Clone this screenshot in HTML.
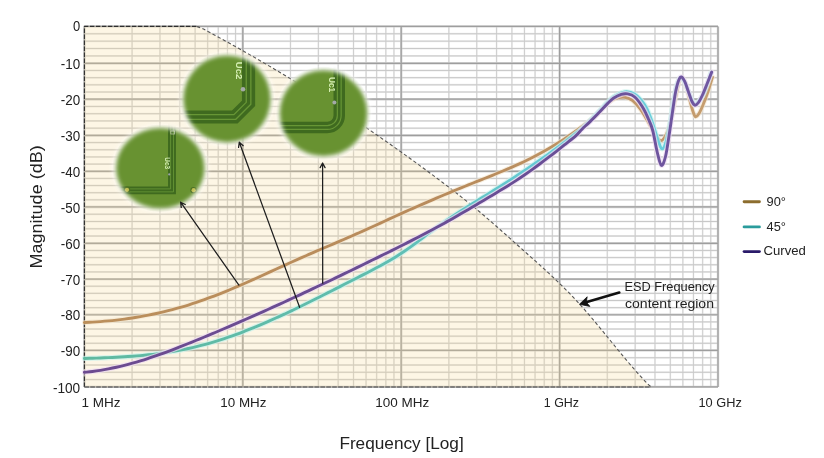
<!DOCTYPE html>
<html><head><meta charset="utf-8"><style>
html,body{margin:0;padding:0;background:#fff;}
body{width:824px;height:458px;overflow:hidden;}
svg{display:block;will-change:transform;font-family:"Liberation Sans",sans-serif;}
.yl{font-size:14.3px;fill:#222;}
.xl{font-size:13px;fill:#222;}
</style></head><body>
<svg width="824" height="458" viewBox="0 0 824 458">
<defs>
<filter id="cb" x="-30%" y="-30%" width="160%" height="160%"><feGaussianBlur stdDeviation="2.2"/></filter>
<filter id="cw" x="-30%" y="-30%" width="160%" height="160%"><feGaussianBlur stdDeviation="2.4"/></filter>
<mask id="mc1" maskUnits="userSpaceOnUse" x="0" y="0" width="824" height="458"><ellipse cx="160.3" cy="168.2" rx="44.3" ry="40.3" fill="#fff" filter="url(#cb)"/></mask><mask id="mc2" maskUnits="userSpaceOnUse" x="0" y="0" width="824" height="458"><ellipse cx="227.0" cy="98.9" rx="43.7" ry="43.5" fill="#fff" filter="url(#cb)"/></mask><mask id="mc3" maskUnits="userSpaceOnUse" x="0" y="0" width="824" height="458"><ellipse cx="323.5" cy="113.3" rx="43.8" ry="43.0" fill="#fff" filter="url(#cb)"/></mask>
<filter id="blur2" x="-20%" y="-20%" width="140%" height="140%"><feGaussianBlur stdDeviation="2.2"/></filter>
<filter id="blur1" x="-20%" y="-20%" width="140%" height="140%"><feGaussianBlur stdDeviation="0.5"/></filter>
<filter id="soft" filterUnits="userSpaceOnUse" x="0" y="0" width="824" height="458"><feGaussianBlur stdDeviation="0.8"/></filter>
</defs>
<rect width="824" height="458" fill="#fff"/>
<g>
<path d="M132.08,26.42V386.90M159.98,26.42V386.90M179.77,26.42V386.90M195.12,26.42V386.90M207.66,26.42V386.90M218.26,26.42V386.90M227.45,26.42V386.90M235.55,26.42V386.90M290.48,26.42V386.90M318.38,26.42V386.90M338.17,26.42V386.90M353.52,26.42V386.90M366.06,26.42V386.90M376.66,26.42V386.90M385.85,26.42V386.90M393.95,26.42V386.90M448.88,26.42V386.90M476.78,26.42V386.90M496.57,26.42V386.90M511.92,26.42V386.90M524.46,26.42V386.90M535.06,26.42V386.90M544.25,26.42V386.90M552.35,26.42V386.90M607.28,26.42V386.90M635.18,26.42V386.90M654.97,26.42V386.90M670.32,26.42V386.90M682.86,26.42V386.90M693.46,26.42V386.90M702.65,26.42V386.90M710.75,26.42V386.90" stroke="#f0f0f0" stroke-width="1.8" fill="none"/>
<path d="M84.40,33.79H718.00M84.40,41.16H718.00M84.40,48.54H718.00M84.40,55.91H718.00M84.40,70.46H718.00M84.40,77.64H718.00M84.40,84.83H718.00M84.40,92.01H718.00M84.40,106.44H718.00M84.40,113.69H718.00M84.40,120.93H718.00M84.40,128.18H718.00M84.40,142.60H718.00M84.40,149.77H718.00M84.40,156.94H718.00M84.40,164.11H718.00M84.40,178.42H718.00M84.40,185.56H718.00M84.40,192.69H718.00M84.40,199.83H718.00M84.40,214.23H718.00M84.40,221.49H718.00M84.40,228.76H718.00M84.40,236.02H718.00M84.40,250.44H718.00M84.40,257.60H718.00M84.40,264.77H718.00M84.40,271.93H718.00M84.40,286.22H718.00M84.40,293.36H718.00M84.40,300.49H718.00M84.40,307.63H718.00M84.40,321.89H718.00M84.40,329.02H718.00M84.40,336.16H718.00M84.40,343.29H718.00M84.40,357.72H718.00M84.40,365.01H718.00M84.40,372.31H718.00M84.40,379.60H718.00" stroke="#ededed" stroke-width="2.0" fill="none"/>
<path d="M84.40,26.42H718.00M84.40,63.28H718.00M84.40,99.19H718.00M84.40,135.43H718.00M84.40,171.28H718.00M84.40,206.97H718.00M84.40,243.28H718.00M84.40,279.09H718.00M84.40,314.76H718.00M84.40,350.42H718.00M84.40,386.90H718.00M84.40,26.42V386.90M242.80,26.42V386.90M401.20,26.42V386.90M559.60,26.42V386.90M718.00,26.42V386.90" stroke="#d2d2d2" stroke-width="2.4" fill="none"/>
<path d="M132.08,26.42V386.90M159.98,26.42V386.90M179.77,26.42V386.90M195.12,26.42V386.90M207.66,26.42V386.90M218.26,26.42V386.90M227.45,26.42V386.90M235.55,26.42V386.90M290.48,26.42V386.90M318.38,26.42V386.90M338.17,26.42V386.90M353.52,26.42V386.90M366.06,26.42V386.90M376.66,26.42V386.90M385.85,26.42V386.90M393.95,26.42V386.90M448.88,26.42V386.90M476.78,26.42V386.90M496.57,26.42V386.90M511.92,26.42V386.90M524.46,26.42V386.90M535.06,26.42V386.90M544.25,26.42V386.90M552.35,26.42V386.90M607.28,26.42V386.90M635.18,26.42V386.90M654.97,26.42V386.90M670.32,26.42V386.90M682.86,26.42V386.90M693.46,26.42V386.90M702.65,26.42V386.90M710.75,26.42V386.90" stroke="#cbcbcb" stroke-width="0.9" fill="none"/>
<path d="M84.40,33.79H718.00M84.40,41.16H718.00M84.40,48.54H718.00M84.40,55.91H718.00M84.40,70.46H718.00M84.40,77.64H718.00M84.40,84.83H718.00M84.40,92.01H718.00M84.40,106.44H718.00M84.40,113.69H718.00M84.40,120.93H718.00M84.40,128.18H718.00M84.40,142.60H718.00M84.40,149.77H718.00M84.40,156.94H718.00M84.40,164.11H718.00M84.40,178.42H718.00M84.40,185.56H718.00M84.40,192.69H718.00M84.40,199.83H718.00M84.40,214.23H718.00M84.40,221.49H718.00M84.40,228.76H718.00M84.40,236.02H718.00M84.40,250.44H718.00M84.40,257.60H718.00M84.40,264.77H718.00M84.40,271.93H718.00M84.40,286.22H718.00M84.40,293.36H718.00M84.40,300.49H718.00M84.40,307.63H718.00M84.40,321.89H718.00M84.40,329.02H718.00M84.40,336.16H718.00M84.40,343.29H718.00M84.40,357.72H718.00M84.40,365.01H718.00M84.40,372.31H718.00M84.40,379.60H718.00" stroke="#c8c8c8" stroke-width="1.0" fill="none"/>
<path d="M84.40,26.42H718.00M84.40,63.28H718.00M84.40,99.19H718.00M84.40,135.43H718.00M84.40,171.28H718.00M84.40,206.97H718.00M84.40,243.28H718.00M84.40,279.09H718.00M84.40,314.76H718.00M84.40,350.42H718.00M84.40,386.90H718.00M84.40,26.42V386.90M242.80,26.42V386.90M401.20,26.42V386.90M559.60,26.42V386.90M718.00,26.42V386.90" stroke="#9e9e9e" stroke-width="1.2" fill="none"/>
<path d="M84.40,26.42 L196.90,26.42 C197.90,26.82 200.90,27.88 202.90,28.81 C204.90,29.74 206.90,30.94 208.90,32.02 C210.90,33.09 212.90,34.17 214.90,35.26 C216.90,36.34 218.90,37.43 220.90,38.53 C222.90,39.62 224.90,40.72 226.90,41.83 C228.90,42.94 230.90,44.05 232.90,45.16 C234.90,46.28 236.90,47.40 238.90,48.53 C240.90,49.66 242.90,50.79 244.90,51.93 C246.90,53.07 248.90,54.21 250.90,55.36 C252.90,56.51 254.90,57.67 256.90,58.83 C258.90,59.99 260.90,61.15 262.90,62.32 C264.90,63.49 266.90,64.67 268.90,65.85 C270.90,67.03 272.90,68.22 274.90,69.41 C276.90,70.61 278.90,71.80 280.90,73.01 C282.90,74.21 284.90,75.42 286.90,76.63 C288.90,77.85 290.90,79.07 292.90,80.29 C294.90,81.52 296.90,82.75 298.90,83.99 C300.90,85.22 302.90,86.47 304.90,87.71 C306.90,88.96 308.90,90.21 310.90,91.47 C312.90,92.73 314.90,94.00 316.90,95.27 C318.90,96.54 320.90,97.81 322.90,99.09 C324.90,100.37 326.90,101.66 328.90,102.95 C330.90,104.24 332.90,105.54 334.90,106.84 C336.90,108.15 338.90,109.46 340.90,110.77 C342.90,112.08 344.90,113.40 346.90,114.73 C348.90,116.06 350.90,117.39 352.90,118.72 C354.90,120.06 356.90,121.40 358.90,122.75 C360.90,124.10 362.90,125.45 364.90,126.81 C366.90,128.17 368.90,129.54 370.90,130.91 C372.90,132.28 374.90,133.65 376.90,135.04 C378.90,136.42 380.90,137.81 382.90,139.20 C384.90,140.59 386.90,141.99 388.90,143.40 C390.90,144.80 392.90,146.21 394.90,147.63 C396.90,149.05 398.90,150.47 400.90,151.90 C402.90,153.32 404.90,154.76 406.90,156.20 C408.90,157.63 410.90,159.08 412.90,160.53 C414.90,161.98 416.90,163.44 418.90,164.90 C420.90,166.36 422.90,167.83 424.90,169.30 C426.90,170.78 428.90,172.26 430.90,173.74 C432.90,175.23 434.90,176.72 436.90,178.22 C438.90,179.72 440.90,181.22 442.90,182.73 C444.90,184.24 446.90,185.76 448.90,187.28 C450.90,188.81 452.90,190.35 454.90,191.90 C456.90,193.45 458.90,195.01 460.90,196.59 C462.90,198.16 464.90,199.75 466.90,201.36 C468.90,202.97 470.90,204.59 472.90,206.23 C474.90,207.88 476.90,209.54 478.90,211.22 C480.90,212.90 482.90,214.60 484.90,216.32 C486.90,218.03 488.90,219.76 490.90,221.51 C492.90,223.25 494.90,225.01 496.90,226.77 C498.90,228.53 500.90,230.31 502.90,232.08 C504.90,233.86 506.90,235.65 508.90,237.43 C510.90,239.22 512.90,241.01 514.90,242.79 C516.90,244.58 518.90,246.37 520.90,248.15 C522.90,249.93 524.90,251.71 526.90,253.49 C528.90,255.27 530.90,257.04 532.90,258.83 C534.90,260.61 536.90,262.40 538.90,264.20 C540.90,266.01 542.90,267.81 544.90,269.64 C546.90,271.47 548.90,273.32 550.90,275.19 C552.90,277.06 554.90,278.94 556.90,280.86 C558.90,282.78 560.90,284.72 562.90,286.70 C564.90,288.68 566.90,290.69 568.90,292.74 C570.90,294.79 572.90,296.88 574.90,299.01 C576.90,301.15 578.90,303.32 580.90,305.55 C582.90,307.77 584.90,310.05 586.90,312.36 C588.90,314.66 590.90,317.02 592.90,319.39 C594.90,321.76 596.90,324.17 598.90,326.59 C600.90,329.00 602.90,331.45 604.90,333.89 C606.90,336.33 608.90,338.79 610.90,341.24 C612.90,343.69 614.90,346.15 616.90,348.58 C618.90,351.02 620.90,353.45 622.90,355.86 C624.90,358.26 626.90,360.66 628.90,363.01 C630.90,365.36 632.90,367.69 634.90,369.98 C636.90,372.26 638.90,374.51 640.90,376.70 C642.90,378.89 645.20,381.43 646.90,383.13 C648.60,384.83 650.40,386.27 651.10,386.90 L84.40,386.90 Z" fill="rgb(246,216,142)" fill-opacity="0.23"/>
<path d="M196.90,26.42 C197.90,26.82 200.90,27.88 202.90,28.81 C204.90,29.74 206.90,30.94 208.90,32.02 C210.90,33.09 212.90,34.17 214.90,35.26 C216.90,36.34 218.90,37.43 220.90,38.53 C222.90,39.62 224.90,40.72 226.90,41.83 C228.90,42.94 230.90,44.05 232.90,45.16 C234.90,46.28 236.90,47.40 238.90,48.53 C240.90,49.66 242.90,50.79 244.90,51.93 C246.90,53.07 248.90,54.21 250.90,55.36 C252.90,56.51 254.90,57.67 256.90,58.83 C258.90,59.99 260.90,61.15 262.90,62.32 C264.90,63.49 266.90,64.67 268.90,65.85 C270.90,67.03 272.90,68.22 274.90,69.41 C276.90,70.61 278.90,71.80 280.90,73.01 C282.90,74.21 284.90,75.42 286.90,76.63 C288.90,77.85 290.90,79.07 292.90,80.29 C294.90,81.52 296.90,82.75 298.90,83.99 C300.90,85.22 302.90,86.47 304.90,87.71 C306.90,88.96 308.90,90.21 310.90,91.47 C312.90,92.73 314.90,94.00 316.90,95.27 C318.90,96.54 320.90,97.81 322.90,99.09 C324.90,100.37 326.90,101.66 328.90,102.95 C330.90,104.24 332.90,105.54 334.90,106.84 C336.90,108.15 338.90,109.46 340.90,110.77 C342.90,112.08 344.90,113.40 346.90,114.73 C348.90,116.06 350.90,117.39 352.90,118.72 C354.90,120.06 356.90,121.40 358.90,122.75 C360.90,124.10 362.90,125.45 364.90,126.81 C366.90,128.17 368.90,129.54 370.90,130.91 C372.90,132.28 374.90,133.65 376.90,135.04 C378.90,136.42 380.90,137.81 382.90,139.20 C384.90,140.59 386.90,141.99 388.90,143.40 C390.90,144.80 392.90,146.21 394.90,147.63 C396.90,149.05 398.90,150.47 400.90,151.90 C402.90,153.32 404.90,154.76 406.90,156.20 C408.90,157.63 410.90,159.08 412.90,160.53 C414.90,161.98 416.90,163.44 418.90,164.90 C420.90,166.36 422.90,167.83 424.90,169.30 C426.90,170.78 428.90,172.26 430.90,173.74 C432.90,175.23 434.90,176.72 436.90,178.22 C438.90,179.72 440.90,181.22 442.90,182.73 C444.90,184.24 446.90,185.76 448.90,187.28 C450.90,188.81 452.90,190.35 454.90,191.90 C456.90,193.45 458.90,195.01 460.90,196.59 C462.90,198.16 464.90,199.75 466.90,201.36 C468.90,202.97 470.90,204.59 472.90,206.23 C474.90,207.88 476.90,209.54 478.90,211.22 C480.90,212.90 482.90,214.60 484.90,216.32 C486.90,218.03 488.90,219.76 490.90,221.51 C492.90,223.25 494.90,225.01 496.90,226.77 C498.90,228.53 500.90,230.31 502.90,232.08 C504.90,233.86 506.90,235.65 508.90,237.43 C510.90,239.22 512.90,241.01 514.90,242.79 C516.90,244.58 518.90,246.37 520.90,248.15 C522.90,249.93 524.90,251.71 526.90,253.49 C528.90,255.27 530.90,257.04 532.90,258.83 C534.90,260.61 536.90,262.40 538.90,264.20 C540.90,266.01 542.90,267.81 544.90,269.64 C546.90,271.47 548.90,273.32 550.90,275.19 C552.90,277.06 554.90,278.94 556.90,280.86 C558.90,282.78 560.90,284.72 562.90,286.70 C564.90,288.68 566.90,290.69 568.90,292.74 C570.90,294.79 572.90,296.88 574.90,299.01 C576.90,301.15 578.90,303.32 580.90,305.55 C582.90,307.77 584.90,310.05 586.90,312.36 C588.90,314.66 590.90,317.02 592.90,319.39 C594.90,321.76 596.90,324.17 598.90,326.59 C600.90,329.00 602.90,331.45 604.90,333.89 C606.90,336.33 608.90,338.79 610.90,341.24 C612.90,343.69 614.90,346.15 616.90,348.58 C618.90,351.02 620.90,353.45 622.90,355.86 C624.90,358.26 626.90,360.66 628.90,363.01 C630.90,365.36 632.90,367.69 634.90,369.98 C636.90,372.26 638.90,374.51 640.90,376.70 C642.90,378.89 645.20,381.43 646.90,383.13 C648.60,384.83 650.40,386.27 651.10,386.90" stroke="#555" stroke-width="1.1" stroke-dasharray="3.4,2.4" fill="none"/>
<path d="M84.40,386.90V26.42H196.9" stroke="#2e2e2e" stroke-width="1.1" stroke-dasharray="4.4,1.6" fill="none"/>
<path d="M84.40,386.90H651" stroke="#6e6e6e" stroke-width="1.5" stroke-dasharray="4.6,1.3" fill="none"/>
</g>
<defs>
<linearGradient id="gt" gradientUnits="userSpaceOnUse" x1="84" y1="0" x2="720" y2="0"><stop offset="0" stop-color="#bb8f5b"/><stop offset="0.6" stop-color="#b88b5c"/><stop offset="1" stop-color="#c69e70"/></linearGradient>
<linearGradient id="gc" gradientUnits="userSpaceOnUse" x1="84" y1="0" x2="720" y2="0"><stop offset="0" stop-color="#5fb9a0"/><stop offset="0.45" stop-color="#5fbdae"/><stop offset="0.7" stop-color="#64c9d4"/><stop offset="1" stop-color="#6cd2e0"/></linearGradient>
<linearGradient id="gp" gradientUnits="userSpaceOnUse" x1="84" y1="0" x2="720" y2="0"><stop offset="0" stop-color="#6c4b90"/><stop offset="0.7" stop-color="#694e95"/><stop offset="1" stop-color="#7058a2"/></linearGradient>
</defs>
<g fill="none" stroke-linecap="round" stroke-linejoin="round">
<path d="M84.40,322.47 C85.73,322.41 89.73,322.25 92.40,322.11 C95.07,321.96 97.73,321.79 100.40,321.59 C103.07,321.39 105.73,321.17 108.40,320.92 C111.07,320.67 113.73,320.39 116.40,320.09 C119.07,319.79 121.73,319.46 124.40,319.10 C127.07,318.74 129.73,318.36 132.40,317.95 C135.07,317.53 137.73,317.09 140.40,316.63 C143.07,316.16 145.73,315.66 148.40,315.14 C151.07,314.61 153.73,314.06 156.40,313.47 C159.07,312.89 161.73,312.27 164.40,311.63 C167.07,310.99 169.73,310.31 172.40,309.61 C175.07,308.90 177.73,308.17 180.40,307.40 C183.07,306.64 185.73,305.84 188.40,305.01 C191.07,304.18 193.73,303.32 196.40,302.43 C199.07,301.53 201.73,300.61 204.40,299.65 C207.07,298.70 209.73,297.71 212.40,296.70 C215.07,295.68 217.73,294.64 220.40,293.58 C223.07,292.52 225.73,291.43 228.40,290.33 C231.07,289.22 233.73,288.09 236.40,286.95 C239.07,285.81 241.73,284.65 244.40,283.48 C247.07,282.31 249.73,281.13 252.40,279.94 C255.07,278.74 257.73,277.54 260.40,276.33 C263.07,275.13 265.73,273.91 268.40,272.69 C271.07,271.48 273.73,270.26 276.40,269.04 C279.07,267.82 281.73,266.60 284.40,265.39 C287.07,264.18 289.73,262.96 292.40,261.76 C295.07,260.56 297.73,259.37 300.40,258.19 C303.07,257.00 305.73,255.83 308.40,254.67 C311.07,253.50 313.73,252.35 316.40,251.20 C319.07,250.05 321.73,248.90 324.40,247.76 C327.07,246.61 329.73,245.47 332.40,244.33 C335.07,243.19 337.73,242.04 340.40,240.90 C343.07,239.75 345.73,238.60 348.40,237.44 C351.07,236.28 353.73,235.12 356.40,233.94 C359.07,232.76 361.73,231.58 364.40,230.38 C367.07,229.19 369.73,227.97 372.40,226.75 C375.07,225.53 377.73,224.30 380.40,223.07 C383.07,221.85 385.73,220.61 388.40,219.39 C391.07,218.16 393.73,216.94 396.40,215.73 C399.07,214.52 401.73,213.32 404.40,212.13 C407.07,210.93 409.73,209.75 412.40,208.57 C415.07,207.39 417.73,206.22 420.40,205.05 C423.07,203.89 425.73,202.73 428.40,201.58 C431.07,200.43 433.73,199.29 436.40,198.15 C439.07,197.02 441.73,195.89 444.40,194.77 C447.07,193.65 449.73,192.54 452.40,191.43 C455.07,190.33 457.73,189.23 460.40,188.13 C463.07,187.04 465.73,185.96 468.40,184.88 C471.07,183.80 473.73,182.73 476.40,181.66 C479.07,180.60 481.73,179.54 484.40,178.48 C487.07,177.41 489.73,176.36 492.40,175.28 C495.07,174.21 497.73,173.13 500.40,172.03 C503.07,170.92 505.73,169.81 508.40,168.67 C511.07,167.53 513.73,166.37 516.40,165.17 C519.07,163.97 521.73,162.74 524.40,161.47 C527.07,160.20 529.73,158.89 532.40,157.54 C535.07,156.18 537.73,154.78 540.40,153.33 C543.07,151.87 545.73,150.37 548.40,148.82 C551.07,147.26 553.73,145.66 556.40,144.01 C559.07,142.35 561.73,140.65 564.40,138.89 C567.07,137.13 569.73,135.32 572.40,133.45 C575.07,131.58 577.73,129.66 580.40,127.69 C583.07,125.72 585.57,123.82 588.40,121.60 C591.23,119.38 594.45,117.15 597.40,114.35 C600.35,111.55 603.18,107.41 606.10,104.80 C609.02,102.19 611.75,99.97 614.90,98.70 C618.05,97.43 622.03,96.87 625.00,97.20 C627.97,97.53 630.10,98.65 632.70,100.70 C635.30,102.75 637.98,105.90 640.60,109.50 C643.22,113.10 646.12,118.37 648.40,122.30 C650.68,126.23 652.30,130.07 654.30,133.10 C656.30,136.13 658.58,139.93 660.40,140.50 C662.22,141.07 663.58,139.37 665.20,136.50 C666.82,133.63 668.55,128.88 670.10,123.30 C671.65,117.72 673.02,109.88 674.50,103.00 C675.98,96.12 677.83,86.20 679.00,82.00 C680.17,77.80 680.50,77.63 681.50,77.80 C682.50,77.97 683.75,79.80 685.00,83.00 C686.25,86.20 687.75,92.50 689.00,97.00 C690.25,101.50 691.43,106.73 692.50,110.00 C693.57,113.27 694.32,116.02 695.40,116.60 C696.48,117.18 697.73,115.43 699.00,113.50 C700.27,111.57 701.58,108.42 703.00,105.00 C704.42,101.58 705.92,97.65 707.50,93.00 C709.08,88.35 711.67,79.75 712.50,77.10" stroke="#f4e6cf" stroke-width="5" opacity="0.6"/>
<path d="M84.40,322.47 C85.73,322.41 89.73,322.25 92.40,322.11 C95.07,321.96 97.73,321.79 100.40,321.59 C103.07,321.39 105.73,321.17 108.40,320.92 C111.07,320.67 113.73,320.39 116.40,320.09 C119.07,319.79 121.73,319.46 124.40,319.10 C127.07,318.74 129.73,318.36 132.40,317.95 C135.07,317.53 137.73,317.09 140.40,316.63 C143.07,316.16 145.73,315.66 148.40,315.14 C151.07,314.61 153.73,314.06 156.40,313.47 C159.07,312.89 161.73,312.27 164.40,311.63 C167.07,310.99 169.73,310.31 172.40,309.61 C175.07,308.90 177.73,308.17 180.40,307.40 C183.07,306.64 185.73,305.84 188.40,305.01 C191.07,304.18 193.73,303.32 196.40,302.43 C199.07,301.53 201.73,300.61 204.40,299.65 C207.07,298.70 209.73,297.71 212.40,296.70 C215.07,295.68 217.73,294.64 220.40,293.58 C223.07,292.52 225.73,291.43 228.40,290.33 C231.07,289.22 233.73,288.09 236.40,286.95 C239.07,285.81 241.73,284.65 244.40,283.48 C247.07,282.31 249.73,281.13 252.40,279.94 C255.07,278.74 257.73,277.54 260.40,276.33 C263.07,275.13 265.73,273.91 268.40,272.69 C271.07,271.48 273.73,270.26 276.40,269.04 C279.07,267.82 281.73,266.60 284.40,265.39 C287.07,264.18 289.73,262.96 292.40,261.76 C295.07,260.56 297.73,259.37 300.40,258.19 C303.07,257.00 305.73,255.83 308.40,254.67 C311.07,253.50 313.73,252.35 316.40,251.20 C319.07,250.05 321.73,248.90 324.40,247.76 C327.07,246.61 329.73,245.47 332.40,244.33 C335.07,243.19 337.73,242.04 340.40,240.90 C343.07,239.75 345.73,238.60 348.40,237.44 C351.07,236.28 353.73,235.12 356.40,233.94 C359.07,232.76 361.73,231.58 364.40,230.38 C367.07,229.19 369.73,227.97 372.40,226.75 C375.07,225.53 377.73,224.30 380.40,223.07 C383.07,221.85 385.73,220.61 388.40,219.39 C391.07,218.16 393.73,216.94 396.40,215.73 C399.07,214.52 401.73,213.32 404.40,212.13 C407.07,210.93 409.73,209.75 412.40,208.57 C415.07,207.39 417.73,206.22 420.40,205.05 C423.07,203.89 425.73,202.73 428.40,201.58 C431.07,200.43 433.73,199.29 436.40,198.15 C439.07,197.02 441.73,195.89 444.40,194.77 C447.07,193.65 449.73,192.54 452.40,191.43 C455.07,190.33 457.73,189.23 460.40,188.13 C463.07,187.04 465.73,185.96 468.40,184.88 C471.07,183.80 473.73,182.73 476.40,181.66 C479.07,180.60 481.73,179.54 484.40,178.48 C487.07,177.41 489.73,176.36 492.40,175.28 C495.07,174.21 497.73,173.13 500.40,172.03 C503.07,170.92 505.73,169.81 508.40,168.67 C511.07,167.53 513.73,166.37 516.40,165.17 C519.07,163.97 521.73,162.74 524.40,161.47 C527.07,160.20 529.73,158.89 532.40,157.54 C535.07,156.18 537.73,154.78 540.40,153.33 C543.07,151.87 545.73,150.37 548.40,148.82 C551.07,147.26 553.73,145.66 556.40,144.01 C559.07,142.35 561.73,140.65 564.40,138.89 C567.07,137.13 569.73,135.32 572.40,133.45 C575.07,131.58 577.73,129.66 580.40,127.69 C583.07,125.72 585.57,123.82 588.40,121.60 C591.23,119.38 594.45,117.15 597.40,114.35 C600.35,111.55 603.18,107.41 606.10,104.80 C609.02,102.19 611.75,99.97 614.90,98.70 C618.05,97.43 622.03,96.87 625.00,97.20 C627.97,97.53 630.10,98.65 632.70,100.70 C635.30,102.75 637.98,105.90 640.60,109.50 C643.22,113.10 646.12,118.37 648.40,122.30 C650.68,126.23 652.30,130.07 654.30,133.10 C656.30,136.13 658.58,139.93 660.40,140.50 C662.22,141.07 663.58,139.37 665.20,136.50 C666.82,133.63 668.55,128.88 670.10,123.30 C671.65,117.72 673.02,109.88 674.50,103.00 C675.98,96.12 677.83,86.20 679.00,82.00 C680.17,77.80 680.50,77.63 681.50,77.80 C682.50,77.97 683.75,79.80 685.00,83.00 C686.25,86.20 687.75,92.50 689.00,97.00 C690.25,101.50 691.43,106.73 692.50,110.00 C693.57,113.27 694.32,116.02 695.40,116.60 C696.48,117.18 697.73,115.43 699.00,113.50 C700.27,111.57 701.58,108.42 703.00,105.00 C704.42,101.58 705.92,97.65 707.50,93.00 C709.08,88.35 711.67,79.75 712.50,77.10" stroke="url(#gt)" stroke-width="2.9"/>
<path d="M84.40,358.43 C85.73,358.39 89.73,358.29 92.40,358.21 C95.07,358.13 97.73,358.05 100.40,357.95 C103.07,357.86 105.73,357.76 108.40,357.64 C111.07,357.53 113.73,357.40 116.40,357.26 C119.07,357.12 121.73,356.97 124.40,356.80 C127.07,356.63 129.73,356.45 132.40,356.24 C135.07,356.04 137.73,355.82 140.40,355.57 C143.07,355.33 145.73,355.07 148.40,354.78 C151.07,354.49 153.73,354.19 156.40,353.85 C159.07,353.52 161.73,353.16 164.40,352.77 C167.07,352.38 169.73,351.97 172.40,351.52 C175.07,351.07 177.73,350.60 180.40,350.09 C183.07,349.58 185.73,349.04 188.40,348.47 C191.07,347.89 193.73,347.28 196.40,346.63 C199.07,345.99 201.73,345.30 204.40,344.58 C207.07,343.86 209.73,343.10 212.40,342.31 C215.07,341.52 217.73,340.70 220.40,339.84 C223.07,338.98 225.73,338.09 228.40,337.17 C231.07,336.25 233.73,335.30 236.40,334.32 C239.07,333.35 241.73,332.34 244.40,331.31 C247.07,330.27 249.73,329.21 252.40,328.13 C255.07,327.05 257.73,325.94 260.40,324.81 C263.07,323.69 265.73,322.53 268.40,321.36 C271.07,320.19 273.73,319.00 276.40,317.79 C279.07,316.58 281.73,315.36 284.40,314.11 C287.07,312.87 289.73,311.61 292.40,310.34 C295.07,309.07 297.73,307.78 300.40,306.48 C303.07,305.19 305.73,303.87 308.40,302.55 C311.07,301.24 313.73,299.90 316.40,298.57 C319.07,297.23 321.73,295.88 324.40,294.53 C327.07,293.18 329.73,291.83 332.40,290.47 C335.07,289.11 337.73,287.74 340.40,286.38 C343.07,285.01 345.73,283.64 348.40,282.27 C351.07,280.91 353.73,279.54 356.40,278.18 C359.07,276.81 361.73,275.46 364.40,274.09 C367.07,272.72 369.73,271.35 372.40,269.95 C375.07,268.55 377.73,267.15 380.40,265.69 C383.07,264.24 385.73,262.76 388.40,261.21 C391.07,259.67 393.73,258.09 396.40,256.43 C399.07,254.77 401.73,253.06 404.40,251.26 C407.07,249.45 409.73,247.56 412.40,245.61 C415.07,243.66 417.73,241.58 420.40,239.56 C423.07,237.53 425.73,235.43 428.40,233.43 C431.07,231.43 433.73,229.46 436.40,227.53 C439.07,225.61 441.73,223.75 444.40,221.91 C447.07,220.07 449.73,218.28 452.40,216.51 C455.07,214.74 457.73,213.00 460.40,211.28 C463.07,209.56 465.73,207.87 468.40,206.19 C471.07,204.51 473.73,202.85 476.40,201.18 C479.07,199.52 481.73,197.87 484.40,196.22 C487.07,194.56 489.73,192.91 492.40,191.24 C495.07,189.58 497.73,187.91 500.40,186.22 C503.07,184.53 505.73,182.84 508.40,181.12 C511.07,179.41 513.73,177.68 516.40,175.94 C519.07,174.19 521.73,172.43 524.40,170.65 C527.07,168.87 529.73,167.08 532.40,165.26 C535.07,163.44 537.73,161.60 540.40,159.74 C543.07,157.88 545.73,156.00 548.40,154.09 C551.07,152.18 553.73,150.25 556.40,148.29 C559.07,146.33 561.13,144.81 564.40,142.33 C567.67,139.84 573.07,135.72 576.00,133.38 C578.93,131.04 579.70,130.40 582.00,128.30 C584.30,126.20 586.87,123.72 589.80,120.80 C592.73,117.88 596.65,113.90 599.60,110.80 C602.55,107.70 605.10,104.57 607.50,102.20 C609.90,99.83 611.12,98.32 614.00,96.60 C616.88,94.88 621.35,92.28 624.80,91.90 C628.25,91.52 631.42,92.18 634.70,94.30 C637.98,96.42 641.95,100.98 644.50,104.60 C647.05,108.22 648.37,112.02 650.00,116.00 C651.63,119.98 652.88,124.17 654.30,128.50 C655.72,132.83 657.18,138.60 658.50,142.00 C659.82,145.40 660.95,148.90 662.20,148.90 C663.45,148.90 664.78,145.82 666.00,142.00 C667.22,138.18 668.33,132.33 669.50,126.00 C670.67,119.67 671.83,110.67 673.00,104.00 C674.17,97.33 675.28,90.40 676.50,86.00 C677.72,81.60 678.97,78.27 680.30,77.60 C681.63,76.93 683.22,79.85 684.50,82.00 C685.78,84.15 686.83,87.67 688.00,90.50 C689.17,93.33 690.35,96.67 691.50,99.00 C692.65,101.33 693.73,104.08 694.90,104.50 C696.07,104.92 697.17,103.05 698.50,101.50 C699.83,99.95 701.48,97.95 702.90,95.20 C704.32,92.45 705.65,88.77 707.00,85.00 C708.35,81.23 710.33,74.67 711.00,72.60" stroke="#c9f2ec" stroke-width="5.2" opacity="0.7"/>
<path d="M84.40,358.43 C85.73,358.39 89.73,358.29 92.40,358.21 C95.07,358.13 97.73,358.05 100.40,357.95 C103.07,357.86 105.73,357.76 108.40,357.64 C111.07,357.53 113.73,357.40 116.40,357.26 C119.07,357.12 121.73,356.97 124.40,356.80 C127.07,356.63 129.73,356.45 132.40,356.24 C135.07,356.04 137.73,355.82 140.40,355.57 C143.07,355.33 145.73,355.07 148.40,354.78 C151.07,354.49 153.73,354.19 156.40,353.85 C159.07,353.52 161.73,353.16 164.40,352.77 C167.07,352.38 169.73,351.97 172.40,351.52 C175.07,351.07 177.73,350.60 180.40,350.09 C183.07,349.58 185.73,349.04 188.40,348.47 C191.07,347.89 193.73,347.28 196.40,346.63 C199.07,345.99 201.73,345.30 204.40,344.58 C207.07,343.86 209.73,343.10 212.40,342.31 C215.07,341.52 217.73,340.70 220.40,339.84 C223.07,338.98 225.73,338.09 228.40,337.17 C231.07,336.25 233.73,335.30 236.40,334.32 C239.07,333.35 241.73,332.34 244.40,331.31 C247.07,330.27 249.73,329.21 252.40,328.13 C255.07,327.05 257.73,325.94 260.40,324.81 C263.07,323.69 265.73,322.53 268.40,321.36 C271.07,320.19 273.73,319.00 276.40,317.79 C279.07,316.58 281.73,315.36 284.40,314.11 C287.07,312.87 289.73,311.61 292.40,310.34 C295.07,309.07 297.73,307.78 300.40,306.48 C303.07,305.19 305.73,303.87 308.40,302.55 C311.07,301.24 313.73,299.90 316.40,298.57 C319.07,297.23 321.73,295.88 324.40,294.53 C327.07,293.18 329.73,291.83 332.40,290.47 C335.07,289.11 337.73,287.74 340.40,286.38 C343.07,285.01 345.73,283.64 348.40,282.27 C351.07,280.91 353.73,279.54 356.40,278.18 C359.07,276.81 361.73,275.46 364.40,274.09 C367.07,272.72 369.73,271.35 372.40,269.95 C375.07,268.55 377.73,267.15 380.40,265.69 C383.07,264.24 385.73,262.76 388.40,261.21 C391.07,259.67 393.73,258.09 396.40,256.43 C399.07,254.77 401.73,253.06 404.40,251.26 C407.07,249.45 409.73,247.56 412.40,245.61 C415.07,243.66 417.73,241.58 420.40,239.56 C423.07,237.53 425.73,235.43 428.40,233.43 C431.07,231.43 433.73,229.46 436.40,227.53 C439.07,225.61 441.73,223.75 444.40,221.91 C447.07,220.07 449.73,218.28 452.40,216.51 C455.07,214.74 457.73,213.00 460.40,211.28 C463.07,209.56 465.73,207.87 468.40,206.19 C471.07,204.51 473.73,202.85 476.40,201.18 C479.07,199.52 481.73,197.87 484.40,196.22 C487.07,194.56 489.73,192.91 492.40,191.24 C495.07,189.58 497.73,187.91 500.40,186.22 C503.07,184.53 505.73,182.84 508.40,181.12 C511.07,179.41 513.73,177.68 516.40,175.94 C519.07,174.19 521.73,172.43 524.40,170.65 C527.07,168.87 529.73,167.08 532.40,165.26 C535.07,163.44 537.73,161.60 540.40,159.74 C543.07,157.88 545.73,156.00 548.40,154.09 C551.07,152.18 553.73,150.25 556.40,148.29 C559.07,146.33 561.13,144.81 564.40,142.33 C567.67,139.84 573.07,135.72 576.00,133.38 C578.93,131.04 579.70,130.40 582.00,128.30 C584.30,126.20 586.87,123.72 589.80,120.80 C592.73,117.88 596.65,113.90 599.60,110.80 C602.55,107.70 605.10,104.57 607.50,102.20 C609.90,99.83 611.12,98.32 614.00,96.60 C616.88,94.88 621.35,92.28 624.80,91.90 C628.25,91.52 631.42,92.18 634.70,94.30 C637.98,96.42 641.95,100.98 644.50,104.60 C647.05,108.22 648.37,112.02 650.00,116.00 C651.63,119.98 652.88,124.17 654.30,128.50 C655.72,132.83 657.18,138.60 658.50,142.00 C659.82,145.40 660.95,148.90 662.20,148.90 C663.45,148.90 664.78,145.82 666.00,142.00 C667.22,138.18 668.33,132.33 669.50,126.00 C670.67,119.67 671.83,110.67 673.00,104.00 C674.17,97.33 675.28,90.40 676.50,86.00 C677.72,81.60 678.97,78.27 680.30,77.60 C681.63,76.93 683.22,79.85 684.50,82.00 C685.78,84.15 686.83,87.67 688.00,90.50 C689.17,93.33 690.35,96.67 691.50,99.00 C692.65,101.33 693.73,104.08 694.90,104.50 C696.07,104.92 697.17,103.05 698.50,101.50 C699.83,99.95 701.48,97.95 702.90,95.20 C704.32,92.45 705.65,88.77 707.00,85.00 C708.35,81.23 710.33,74.67 711.00,72.60" stroke="url(#gc)" stroke-width="2.9"/>
<path d="M84.40,372.26 C85.73,372.12 89.73,371.77 92.40,371.45 C95.07,371.13 97.73,370.76 100.40,370.34 C103.07,369.92 105.73,369.45 108.40,368.94 C111.07,368.42 113.73,367.87 116.40,367.27 C119.07,366.67 121.73,366.03 124.40,365.35 C127.07,364.68 129.73,363.96 132.40,363.21 C135.07,362.46 137.73,361.68 140.40,360.86 C143.07,360.05 145.73,359.20 148.40,358.33 C151.07,357.45 153.73,356.55 156.40,355.62 C159.07,354.70 161.73,353.74 164.40,352.77 C167.07,351.80 169.73,350.80 172.40,349.79 C175.07,348.78 177.73,347.74 180.40,346.70 C183.07,345.66 185.73,344.59 188.40,343.52 C191.07,342.45 193.73,341.37 196.40,340.28 C199.07,339.19 201.73,338.09 204.40,336.99 C207.07,335.88 209.73,334.77 212.40,333.65 C215.07,332.53 217.73,331.41 220.40,330.27 C223.07,329.14 225.73,328.00 228.40,326.86 C231.07,325.71 233.73,324.56 236.40,323.41 C239.07,322.25 241.73,321.08 244.40,319.91 C247.07,318.75 249.73,317.57 252.40,316.39 C255.07,315.21 257.73,314.02 260.40,312.83 C263.07,311.64 265.73,310.44 268.40,309.24 C271.07,308.03 273.73,306.82 276.40,305.61 C279.07,304.40 281.73,303.18 284.40,301.96 C287.07,300.73 289.73,299.50 292.40,298.27 C295.07,297.04 297.73,295.80 300.40,294.56 C303.07,293.31 305.73,292.07 308.40,290.82 C311.07,289.56 313.73,288.31 316.40,287.05 C319.07,285.79 321.73,284.53 324.40,283.26 C327.07,281.99 329.73,280.72 332.40,279.44 C335.07,278.17 337.73,276.89 340.40,275.61 C343.07,274.32 345.73,273.04 348.40,271.75 C351.07,270.46 353.73,269.17 356.40,267.87 C359.07,266.58 361.73,265.28 364.40,263.97 C367.07,262.67 369.73,261.37 372.40,260.06 C375.07,258.75 377.73,257.44 380.40,256.13 C383.07,254.82 385.73,253.50 388.40,252.18 C391.07,250.86 393.73,249.54 396.40,248.21 C399.07,246.87 401.73,245.54 404.40,244.19 C407.07,242.84 409.73,241.49 412.40,240.12 C415.07,238.76 417.73,237.38 420.40,236.00 C423.07,234.61 425.73,233.21 428.40,231.80 C431.07,230.39 433.73,228.96 436.40,227.52 C439.07,226.08 441.73,224.62 444.40,223.15 C447.07,221.67 449.73,220.18 452.40,218.67 C455.07,217.16 457.73,215.63 460.40,214.09 C463.07,212.56 465.73,211.00 468.40,209.44 C471.07,207.87 473.73,206.29 476.40,204.71 C479.07,203.13 481.73,201.54 484.40,199.95 C487.07,198.35 489.73,196.75 492.40,195.15 C495.07,193.55 497.73,191.96 500.40,190.34 C503.07,188.73 505.73,187.12 508.40,185.45 C511.07,183.78 513.73,182.10 516.40,180.35 C519.07,178.61 521.73,176.81 524.40,174.98 C527.07,173.15 529.73,171.27 532.40,169.35 C535.07,167.44 537.73,165.49 540.40,163.51 C543.07,161.53 545.73,159.51 548.40,157.47 C551.07,155.44 553.73,153.37 556.40,151.28 C559.07,149.20 561.13,147.57 564.40,144.96 C567.67,142.36 573.07,138.27 576.00,135.64 C578.93,133.01 579.70,131.49 582.00,129.20 C584.30,126.91 586.87,124.77 589.80,121.90 C592.73,119.03 596.65,115.05 599.60,112.00 C602.55,108.95 605.20,105.90 607.50,103.60 C609.80,101.30 611.10,99.73 613.40,98.20 C615.70,96.67 618.95,95.12 621.30,94.40 C623.65,93.68 625.27,93.47 627.50,93.90 C629.73,94.33 632.20,94.82 634.70,97.00 C637.20,99.18 640.28,103.50 642.50,107.00 C644.72,110.50 646.32,114.17 648.00,118.00 C649.68,121.83 651.07,124.33 652.60,130.00 C654.13,135.67 655.75,146.12 657.20,152.00 C658.65,157.88 659.93,164.47 661.30,165.30 C662.67,166.13 664.12,161.88 665.40,157.00 C666.68,152.12 667.82,143.50 669.00,136.00 C670.18,128.50 671.33,119.67 672.50,112.00 C673.67,104.33 674.70,95.78 676.00,90.00 C677.30,84.22 678.88,78.80 680.30,77.30 C681.72,75.80 683.13,78.55 684.50,81.00 C685.87,83.45 687.25,88.58 688.50,92.00 C689.75,95.42 690.92,99.30 692.00,101.50 C693.08,103.70 693.92,105.03 695.00,105.20 C696.08,105.37 697.25,104.20 698.50,102.50 C699.75,100.80 701.08,98.08 702.50,95.00 C703.92,91.92 705.47,87.82 707.00,84.00 C708.53,80.18 710.92,74.08 711.70,72.10" stroke="#eedcf2" stroke-width="5.2" opacity="0.7"/>
<path d="M84.40,372.26 C85.73,372.12 89.73,371.77 92.40,371.45 C95.07,371.13 97.73,370.76 100.40,370.34 C103.07,369.92 105.73,369.45 108.40,368.94 C111.07,368.42 113.73,367.87 116.40,367.27 C119.07,366.67 121.73,366.03 124.40,365.35 C127.07,364.68 129.73,363.96 132.40,363.21 C135.07,362.46 137.73,361.68 140.40,360.86 C143.07,360.05 145.73,359.20 148.40,358.33 C151.07,357.45 153.73,356.55 156.40,355.62 C159.07,354.70 161.73,353.74 164.40,352.77 C167.07,351.80 169.73,350.80 172.40,349.79 C175.07,348.78 177.73,347.74 180.40,346.70 C183.07,345.66 185.73,344.59 188.40,343.52 C191.07,342.45 193.73,341.37 196.40,340.28 C199.07,339.19 201.73,338.09 204.40,336.99 C207.07,335.88 209.73,334.77 212.40,333.65 C215.07,332.53 217.73,331.41 220.40,330.27 C223.07,329.14 225.73,328.00 228.40,326.86 C231.07,325.71 233.73,324.56 236.40,323.41 C239.07,322.25 241.73,321.08 244.40,319.91 C247.07,318.75 249.73,317.57 252.40,316.39 C255.07,315.21 257.73,314.02 260.40,312.83 C263.07,311.64 265.73,310.44 268.40,309.24 C271.07,308.03 273.73,306.82 276.40,305.61 C279.07,304.40 281.73,303.18 284.40,301.96 C287.07,300.73 289.73,299.50 292.40,298.27 C295.07,297.04 297.73,295.80 300.40,294.56 C303.07,293.31 305.73,292.07 308.40,290.82 C311.07,289.56 313.73,288.31 316.40,287.05 C319.07,285.79 321.73,284.53 324.40,283.26 C327.07,281.99 329.73,280.72 332.40,279.44 C335.07,278.17 337.73,276.89 340.40,275.61 C343.07,274.32 345.73,273.04 348.40,271.75 C351.07,270.46 353.73,269.17 356.40,267.87 C359.07,266.58 361.73,265.28 364.40,263.97 C367.07,262.67 369.73,261.37 372.40,260.06 C375.07,258.75 377.73,257.44 380.40,256.13 C383.07,254.82 385.73,253.50 388.40,252.18 C391.07,250.86 393.73,249.54 396.40,248.21 C399.07,246.87 401.73,245.54 404.40,244.19 C407.07,242.84 409.73,241.49 412.40,240.12 C415.07,238.76 417.73,237.38 420.40,236.00 C423.07,234.61 425.73,233.21 428.40,231.80 C431.07,230.39 433.73,228.96 436.40,227.52 C439.07,226.08 441.73,224.62 444.40,223.15 C447.07,221.67 449.73,220.18 452.40,218.67 C455.07,217.16 457.73,215.63 460.40,214.09 C463.07,212.56 465.73,211.00 468.40,209.44 C471.07,207.87 473.73,206.29 476.40,204.71 C479.07,203.13 481.73,201.54 484.40,199.95 C487.07,198.35 489.73,196.75 492.40,195.15 C495.07,193.55 497.73,191.96 500.40,190.34 C503.07,188.73 505.73,187.12 508.40,185.45 C511.07,183.78 513.73,182.10 516.40,180.35 C519.07,178.61 521.73,176.81 524.40,174.98 C527.07,173.15 529.73,171.27 532.40,169.35 C535.07,167.44 537.73,165.49 540.40,163.51 C543.07,161.53 545.73,159.51 548.40,157.47 C551.07,155.44 553.73,153.37 556.40,151.28 C559.07,149.20 561.13,147.57 564.40,144.96 C567.67,142.36 573.07,138.27 576.00,135.64 C578.93,133.01 579.70,131.49 582.00,129.20 C584.30,126.91 586.87,124.77 589.80,121.90 C592.73,119.03 596.65,115.05 599.60,112.00 C602.55,108.95 605.20,105.90 607.50,103.60 C609.80,101.30 611.10,99.73 613.40,98.20 C615.70,96.67 618.95,95.12 621.30,94.40 C623.65,93.68 625.27,93.47 627.50,93.90 C629.73,94.33 632.20,94.82 634.70,97.00 C637.20,99.18 640.28,103.50 642.50,107.00 C644.72,110.50 646.32,114.17 648.00,118.00 C649.68,121.83 651.07,124.33 652.60,130.00 C654.13,135.67 655.75,146.12 657.20,152.00 C658.65,157.88 659.93,164.47 661.30,165.30 C662.67,166.13 664.12,161.88 665.40,157.00 C666.68,152.12 667.82,143.50 669.00,136.00 C670.18,128.50 671.33,119.67 672.50,112.00 C673.67,104.33 674.70,95.78 676.00,90.00 C677.30,84.22 678.88,78.80 680.30,77.30 C681.72,75.80 683.13,78.55 684.50,81.00 C685.87,83.45 687.25,88.58 688.50,92.00 C689.75,95.42 690.92,99.30 692.00,101.50 C693.08,103.70 693.92,105.03 695.00,105.20 C696.08,105.37 697.25,104.20 698.50,102.50 C699.75,100.80 701.08,98.08 702.50,95.00 C703.92,91.92 705.47,87.82 707.00,84.00 C708.53,80.18 710.92,74.08 711.70,72.10" stroke="url(#gp)" stroke-width="2.9"/>
</g>
<ellipse cx="160.3" cy="168.2" rx="47.0" ry="43.0" fill="#fff" opacity="0.85" filter="url(#cw)"/>
<ellipse cx="227.0" cy="98.9" rx="46.400000000000006" ry="46.2" fill="#fff" opacity="0.85" filter="url(#cw)"/>
<ellipse cx="323.5" cy="113.3" rx="46.5" ry="45.7" fill="#fff" opacity="0.85" filter="url(#cw)"/>
<g mask="url(#mc1)"><ellipse cx="160.3" cy="168.2" rx="47.8" ry="43.8" fill="#689231"/>
<path d="M172,120 V190.35 H110" stroke="#3f6a1f" stroke-width="7.9" fill="none" stroke-linejoin="miter"/>
<path d="M173.5,120 V191.85 H110 M170.6,120 V188.9 H110" stroke="#6e9e3a" stroke-width="0.9" fill="none" opacity="0.8"/>
<circle cx="127" cy="189.8" r="3.2" fill="#4a6f22"/><circle cx="127" cy="189.8" r="2.1" fill="#bdbd4c"/>
<circle cx="193.6" cy="190.2" r="3.2" fill="#4a6f22"/><circle cx="193.6" cy="190.2" r="2.1" fill="#bdbd4c"/>
<rect x="170.8" y="131.0" width="3.8" height="3.0" fill="none" stroke="#c4cfae" stroke-width="0.8" opacity="0.85"/>
<circle cx="169.2" cy="174.4" r="1.1" fill="#9aa3a8"/>
<text transform="translate(165.2,157.3) rotate(90)" font-size="7.5" font-weight="bold" fill="#d6efb4" textLength="11.8" lengthAdjust="spacingAndGlyphs">Uc3</text>
</g>
<g mask="url(#mc2)"><ellipse cx="227.0" cy="98.9" rx="47.2" ry="47.0" fill="#689231"/>
<path d="M248.55,50 V103.3 L234.85,117 H175" stroke="#3f6a1f" stroke-width="13.2" fill="none" stroke-linejoin="miter"/>
<path d="M246.25,50 V102.35 L233.90,114.70 H175" stroke="#6e9e3a" stroke-width="1.3" fill="none" opacity="0.85"/>
<path d="M250.85,50 V104.25 L235.80,119.30 H175" stroke="#6e9e3a" stroke-width="1.3" fill="none" opacity="0.85"/>
<circle cx="243" cy="89.3" r="2.3" fill="#a4aaa8"/>
<text transform="translate(236.2,61.8) rotate(90)" font-size="9.5" font-weight="bold" fill="#d6efb4" textLength="17.6" lengthAdjust="spacingAndGlyphs">Uc2</text>
</g>
<g mask="url(#mc3)"><ellipse cx="323.5" cy="113.3" rx="47.3" ry="46.5" fill="#689231"/>
<path d="M339.25,60 V115.5 A12,12 0 0 1 327.25,127.5 H270" stroke="#3f6a1f" stroke-width="11.5" fill="none"/>
<path d="M337.35,60 V115.5 A10.10,10.10 0 0 1 327.25,125.60 H270" stroke="#6e9e3a" stroke-width="1.2" fill="none" opacity="0.85"/>
<path d="M341.15,60 V115.5 A13.90,13.90 0 0 1 327.25,129.40 H270" stroke="#6e9e3a" stroke-width="1.2" fill="none" opacity="0.85"/>
<circle cx="334.4" cy="102.4" r="2.0" fill="#a4aaa8"/>
<text transform="translate(329.0,76.9) rotate(90)" font-size="8.5" font-weight="bold" fill="#d6efb4" textLength="15.3" lengthAdjust="spacingAndGlyphs">Uc1</text>
</g>
<g><path d="M238.90,285.10 L180.60,202.20 M181.24,207.36 L180.60,202.20 L185.24,204.55" stroke="#1e1e1e" stroke-width="1.25" fill="none" stroke-linecap="round" stroke-linejoin="round"/>
<path d="M299.60,307.30 L239.30,142.20 M238.58,147.35 L239.30,142.20 L243.17,145.68" stroke="#1e1e1e" stroke-width="1.25" fill="none" stroke-linecap="round" stroke-linejoin="round"/>
<path d="M322.70,283.20 L322.60,163.00 M320.16,167.59 L322.60,163.00 L325.05,167.59" stroke="#1e1e1e" stroke-width="1.25" fill="none" stroke-linecap="round" stroke-linejoin="round"/>
<path d="M619.3,292.6 L586,302.3" stroke="#111" stroke-width="2.6" stroke-linecap="round" fill="none"/>
<path d="M579.4,304.3 L587.2,296.8 L586.2,302.0 L589.9,306.4 Z" fill="#111" stroke="#111" stroke-width="0.8" stroke-linejoin="round"/></g>
<text x="73.00" y="31.42" class="yl" textLength="7.2" lengthAdjust="spacingAndGlyphs">0</text><text x="60.80" y="68.98" class="yl" textLength="19.4" lengthAdjust="spacingAndGlyphs">-10</text><text x="60.80" y="104.89" class="yl" textLength="19.4" lengthAdjust="spacingAndGlyphs">-20</text><text x="60.80" y="141.13" class="yl" textLength="19.4" lengthAdjust="spacingAndGlyphs">-30</text><text x="60.80" y="176.98" class="yl" textLength="19.4" lengthAdjust="spacingAndGlyphs">-40</text><text x="60.80" y="212.67" class="yl" textLength="19.4" lengthAdjust="spacingAndGlyphs">-50</text><text x="60.80" y="248.98" class="yl" textLength="19.4" lengthAdjust="spacingAndGlyphs">-60</text><text x="60.80" y="284.79" class="yl" textLength="19.4" lengthAdjust="spacingAndGlyphs">-70</text><text x="60.80" y="320.46" class="yl" textLength="19.4" lengthAdjust="spacingAndGlyphs">-80</text><text x="60.80" y="356.12" class="yl" textLength="19.4" lengthAdjust="spacingAndGlyphs">-90</text><text x="52.90" y="392.60" class="yl" textLength="27.3" lengthAdjust="spacingAndGlyphs">-100</text>
<text x="81.4" y="407.0" class="xl" textLength="39.0" lengthAdjust="spacingAndGlyphs">1 MHz</text><text x="220.3" y="407.0" class="xl" textLength="46.2" lengthAdjust="spacingAndGlyphs">10 MHz</text><text x="375.3" y="407.0" class="xl" textLength="54.0" lengthAdjust="spacingAndGlyphs">100 MHz</text><text x="543.8" y="407.0" class="xl" textLength="35.2" lengthAdjust="spacingAndGlyphs">1 GHz</text><text x="698.5" y="407.0" class="xl" textLength="43.3" lengthAdjust="spacingAndGlyphs">10 GHz</text>
<text x="339.4" y="448.7" font-size="16" fill="#222" textLength="124.3" lengthAdjust="spacingAndGlyphs">Frequency [Log]</text>
<text transform="translate(42.1,268.6) rotate(-90)" x="0" y="0" font-size="17" fill="#222" textLength="123.4" lengthAdjust="spacingAndGlyphs">Magnitude (dB)</text>
<text x="624.4" y="291" font-size="13" fill="#222" textLength="90.3" lengthAdjust="spacingAndGlyphs">ESD Frequency</text>
<text x="625" y="308.3" font-size="13" fill="#222" textLength="89" lengthAdjust="spacingAndGlyphs">content region</text>
<g stroke-width="2.9" stroke-linecap="round">
<line x1="744.1" y1="201.8" x2="759.4" y2="201.8" stroke="#8c6d2e"/>
<line x1="744.1" y1="226.9" x2="759.4" y2="226.9" stroke="#2a9c9c"/>
<line x1="744.1" y1="251.6" x2="759.4" y2="251.6" stroke="#2a1a6a"/>
</g>
<text x="766.6" y="206" font-size="12.5" fill="#222" textLength="19.4" lengthAdjust="spacingAndGlyphs">90°</text>
<text x="766.6" y="230.5" font-size="12.5" fill="#222" textLength="19.4" lengthAdjust="spacingAndGlyphs">45°</text>
<text x="763.6" y="255.2" font-size="13" fill="#222" textLength="42.3" lengthAdjust="spacingAndGlyphs">Curved</text>
</svg>
</body></html>
